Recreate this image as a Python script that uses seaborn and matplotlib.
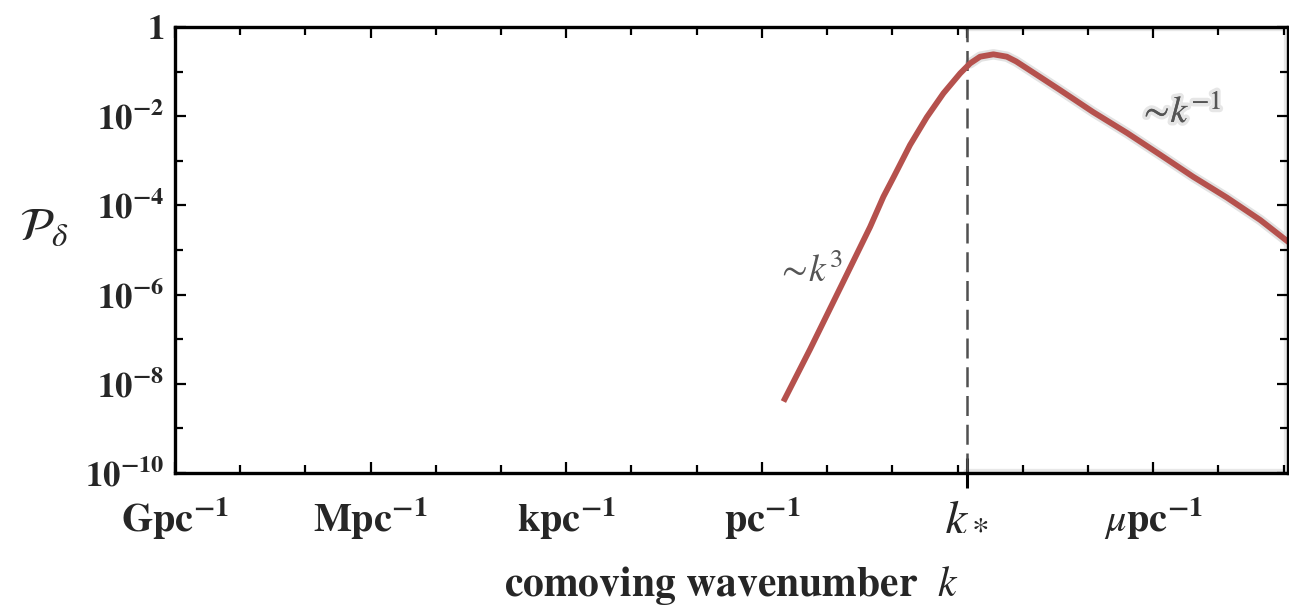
import matplotlib
matplotlib.use("Agg")
import matplotlib.pyplot as plt
import matplotlib.patheffects as pe
from matplotlib.ticker import FixedLocator, NullFormatter
import pandas as pd
import seaborn as sns

# Density power spectrum P_delta(k), k in Mpc^-1
k_vals = [2.14e6, 5.5e6, 1.76e7, 4.57e7, 7.31e7, 1.04e8, 1.87e8, 3.38e8, 6.08e8,
          1.10e9, 1.56e9, 2.22e9, 3.55e9, 5.70e9, 7.94e9, 1.16e10, 2.1e10, 3.7e10,
          1.2e11, 4.0e11, 1.3e12, 4.1e12, 1.35e13, 4.4e13, 1.23e14]
P_vals = [4.0e-9, 6.0e-8, 1.91e-6, 3.3e-5, 1.57e-4, 4.22e-4, 2.26e-3, 9.5e-3, 3.26e-2,
          9.16e-2, 0.153, 0.216, 0.244, 0.216, 0.169, 0.118, 0.067, 0.039,
          1.24e-2, 4.2e-3, 1.35e-3, 4.4e-4, 1.5e-4, 4.7e-5, 1.45e-5]

k_star = 1.38e9
x_limits = (1e-3, 1.17e14)
y_limits = (1e-10, 1.0)

x_major = [1e-3, 1.0, 1e3, 1e6, k_star, 1e12]
x_labels = [r"$\mathbf{Gpc^{-1}}$", r"$\mathbf{Mpc^{-1}}$", r"$\mathbf{kpc^{-1}}$",
            r"$\mathbf{pc^{-1}}$", r"$k_*$", r"$\mu\mathbf{pc^{-1}}$"]
y_major = [1.0, 1e-2, 1e-4, 1e-6, 1e-8, 1e-10]
y_labels = [r"$\mathbf{1}$", r"$\mathbf{10^{-2}}$", r"$\mathbf{10^{-4}}$",
            r"$\mathbf{10^{-6}}$", r"$\mathbf{10^{-8}}$", r"$\mathbf{10^{-10}}$"]

curve_color = "#b5514d"
note_color = "#555555"

sns.set_theme(style="ticks")
plt.rcParams["font.family"] = ["STIXGeneral", "DejaVu Serif"]
plt.rcParams["mathtext.fontset"] = "stix"

df = pd.DataFrame({"k": k_vals, "P": P_vals})
df_tail = df[df["k"] >= k_star]

fig = plt.figure(figsize=(12.89, 6.08), dpi=100)
ax = fig.add_axes([175 / 1289, 1 - 473 / 608, 1113 / 1289, 446 / 608])
ax.set_xscale("log")
ax.set_yscale("log")
ax.set_xlim(*x_limits)
ax.set_ylim(*y_limits)

# faint halo along the frame of the region k > k_*
ax.plot([k_star, x_limits[1], x_limits[1], k_star], [1, 1, 0, 0],
        transform=ax.get_xaxis_transform(), color="#e8e8e8", lw=6,
        solid_joinstyle="round", zorder=0.5)

sns.lineplot(data=df_tail, x="k", y="P", ax=ax, color="#e2e2e2", lw=7.5,
             sort=False, zorder=1.5)
sns.lineplot(data=df, x="k", y="P", ax=ax, color=curve_color, lw=4.2,
             sort=False, zorder=2, solid_capstyle="butt", solid_joinstyle="round")

ax.axvline(k_star, color="#505050", lw=1.8, dashes=(8, 3.5), zorder=1.8)

ax.text(5.3e6, 3.2e-6, r"$\sim\!k^3$", color=note_color, fontsize=27,
        ha="center", va="center")
ax.text(2.6e12, 1.25e-2, r"$\sim\!k^{-1}$", color=note_color, fontsize=27,
        ha="center", va="center",
        path_effects=[pe.withStroke(linewidth=5, foreground="#e6e6e6"), pe.Normal()])

# ticks
x_minor = [10.0 ** e for e in range(-3, 15) if 10.0 ** e not in x_major]
ax.xaxis.set_major_locator(FixedLocator(x_major))
ax.xaxis.set_minor_locator(FixedLocator(x_minor))
ax.set_xticklabels(x_labels)
ax.xaxis.set_minor_formatter(NullFormatter())
y_minor = [10.0 ** e for e in range(-9, 0, 2)]
ax.yaxis.set_major_locator(FixedLocator(y_major))
ax.yaxis.set_minor_locator(FixedLocator(y_minor))
ax.set_yticklabels(y_labels)
ax.yaxis.set_minor_formatter(NullFormatter())

ax.tick_params(which="both", direction="in", top=True, right=True,
               color="black", width=1.6)
ax.tick_params(which="major", length=8, labelsize=25)
ax.tick_params(axis="y", which="major", pad=8)
ax.tick_params(axis="x", which="major", pad=16)
ax.tick_params(which="minor", length=5.5)
for lab in ax.get_xticklabels():
    lab.set_fontsize(29)
ks_tick = ax.xaxis.get_major_ticks()[4]
ks_tick.tick1line.set_marker("|")
ks_tick.tick1line.set_markersize(21)
ks_tick.tick1line.set_markeredgewidth(2.2)
ks_tick.label1.set_fontsize(36)

for sp in ax.spines.values():
    sp.set_linewidth(2.4)
    sp.set_color("black")

ax.set_xlabel(r"comoving wavenumber  $k$", fontsize=30, fontweight="bold", labelpad=16)
ax.set_ylabel(r"$\mathcal{P}_{\delta}$", fontsize=34, rotation=0)
ax.yaxis.set_label_coords(-0.118, 0.5)

fig.savefig("out.png", dpi=100)
